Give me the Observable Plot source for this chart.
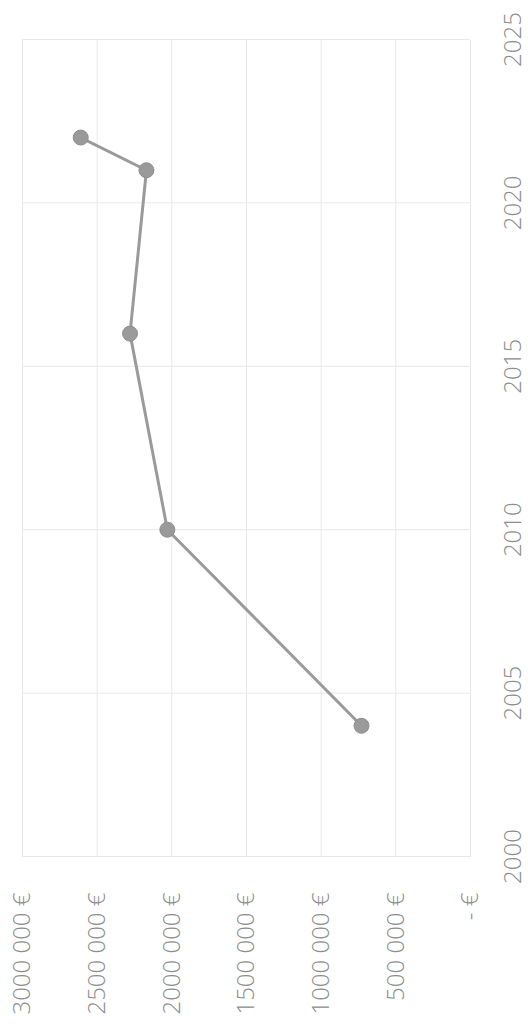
<!DOCTYPE html>
<html>
<head>
<meta charset="utf-8">
<script src="https://cdn.jsdelivr.net/npm/d3@7"></script>
<script src="https://cdn.jsdelivr.net/npm/@observablehq/plot@0.6"></script>
<style>
  html, body { margin: 0; padding: 0; background: #fff; }
  #frame { position: relative; width: 528px; height: 1027px; overflow: hidden; background: #fff; }
  #chart { position: absolute; left: 0; top: 0; width: 1027px; height: 528px;
           transform-origin: 0 0; transform: translate(0, 1027px) rotate(-90deg); }
</style>
</head>
<body>
<div id="frame"><div id="chart"></div></div>
<script>
const years = [2004, 2010, 2016, 2021, 2022];
const values = [730000, 2030000, 2280000, 2170000, 2610000];
const yearTicks = [2000, 2005, 2010, 2015, 2020, 2025];
const valueTicks = [0, 500000, 1000000, 1500000, 2000000, 2500000, 3000000];
const valueTickLabels = ["- €", "500 000 €", "1000 000 €", "1500 000 €", "2000 000 €", "2500 000 €", "3000 000 €"];

const data = years.map((y, i) => ({year: y, value: values[i]}));
const labelOf = new Map(valueTicks.map((v, i) => [v, valueTickLabels[i]]));

const chart = Plot.plot({
  width: 1027,
  height: 528,
  marginLeft: 170,
  marginRight: 40,
  marginTop: 22,
  marginBottom: 58,
  style: {fontFamily: "'Open Sans', sans-serif", fontSize: "24px", fontWeight: 300, color: "#8c8c8c", background: "#fff"},
  x: {domain: [2000, 2025]},
  y: {domain: [0, 3000000]},
  marks: [
    Plot.gridX(yearTicks, {stroke: "#e8e8e8", strokeOpacity: 1}),
    Plot.gridY(valueTicks, {stroke: "#e8e8e8", strokeOpacity: 1}),
    Plot.axisX(yearTicks, {tickSize: 0, tickPadding: 33, tickFormat: d => String(d), label: null}),
    Plot.axisY(valueTicks, {tickSize: 0, tickPadding: 36, tickFormat: d => labelOf.get(d), label: null}),
    Plot.line(data, {x: "year", y: "value", stroke: "#9a9a9a", strokeWidth: 3}),
    Plot.dot(data, {x: "year", y: "value", r: 7.5, fill: "#9a9a9a", stroke: "#8e8e8e", strokeWidth: 1})
  ]
});
document.getElementById("chart").appendChild(chart);
</script>
</body>
</html>
